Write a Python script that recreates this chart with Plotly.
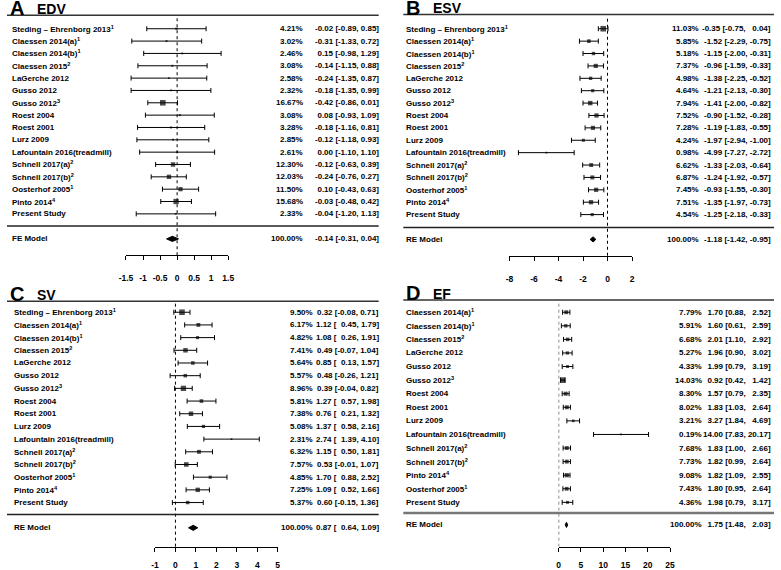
import plotly.graph_objects as go

FONT = "Liberation Sans, Arial, sans-serif"

# ---------------- data ----------------
studies_16 = ["Steding \u2013 Ehrenborg 2013<sup>1</sup>", "Claessen 2014(a)<sup>1</sup>",
              "Claessen 2014(b)<sup>1</sup>", "Claessen 2015<sup>2</sup>", "LaGerche 2012",
              "Gusso 2012", "Gusso 2012<sup>3</sup>", "Roest 2004", "Roest 2001", "Lurz 2009",
              "Lafountain 2016(treadmill)", "Schnell 2017(a)<sup>2</sup>",
              "Schnell 2017(b)<sup>2</sup>", "Oosterhof 2005<sup>1</sup>",
              "Pinto 2014<sup>4</sup>", "Present Study"]

# A: EDV
weight_A = [4.21, 3.02, 2.46, 3.08, 2.58, 2.32, 16.67, 3.08, 3.28, 2.85, 2.61, 12.30, 12.03, 11.50, 15.68, 2.33]
est_A = [-0.02, -0.31, 0.15, -0.14, -0.24, -0.18, -0.42, 0.08, -0.18, -0.12, 0.00, -0.12, -0.24, 0.10, -0.03, -0.04]
lo_A = [-0.89, -1.33, -0.98, -1.15, -1.35, -1.35, -0.86, -0.93, -1.16, -1.18, -1.10, -0.63, -0.76, -0.43, -0.48, -1.20]
hi_A = [0.85, 0.72, 1.29, 0.88, 0.87, 0.99, 0.01, 1.09, 0.81, 0.93, 1.10, 0.39, 0.27, 0.63, 0.42, 1.13]
model_A = ("FE Model", 100.00, -0.14, -0.31, 0.04)
ticks_A = [-1.5, -1, -0.5, 0, 0.5, 1, 1.5]
ticktext_A = ["-1.5", "-1", "-0.5", "0", "0.5", "1", "1.5"]

# B: ESV
weight_B = [11.03, 5.85, 5.18, 7.37, 4.98, 4.64, 7.94, 7.52, 7.28, 4.24, 0.98, 6.62, 6.87, 7.45, 7.51, 4.54]
est_B = [-0.35, -1.52, -1.15, -0.96, -1.38, -1.21, -1.41, -0.90, -1.19, -1.97, -4.99, -1.33, -1.24, -0.93, -1.35, -1.25]
lo_B = [-0.75, -2.29, -2.00, -1.59, -2.25, -2.13, -2.00, -1.52, -1.83, -2.94, -7.27, -2.03, -1.92, -1.55, -1.97, -2.18]
hi_B = [0.04, -0.75, -0.31, -0.33, -0.52, -0.30, -0.82, -0.28, -0.55, -1.00, -2.72, -0.64, -0.57, -0.30, -0.73, -0.33]
model_B = ("RE Model", 100.00, -1.18, -1.42, -0.95)
ticks_B = [-8, -6, -4, -2, 0, 2]
ticktext_B = ["-8", "-6", "-4", "-2", "0", "2"]

# C: SV
weight_C = [9.50, 6.17, 4.82, 7.41, 5.64, 5.57, 8.96, 5.81, 7.38, 5.08, 2.31, 6.32, 7.57, 4.85, 7.25, 5.37]
est_C = [0.32, 1.12, 1.08, 0.49, 0.85, 0.48, 0.39, 1.27, 0.76, 1.37, 2.74, 1.15, 0.53, 1.70, 1.09, 0.60]
lo_C = [-0.08, 0.45, 0.26, -0.07, 0.13, -0.26, -0.04, 0.57, 0.21, 0.58, 1.39, 0.50, -0.01, 0.88, 0.52, -0.15]
hi_C = [0.71, 1.79, 1.91, 1.04, 1.57, 1.21, 0.82, 1.98, 1.32, 2.16, 4.10, 1.81, 1.07, 2.52, 1.66, 1.36]
model_C = ("RE Model", 100.00, 0.87, 0.64, 1.09)
ticks_C = [-1, 0, 1, 2, 3, 4, 5]
ticktext_C = ["-1", "0", "1", "2", "3", "4", "5"]

# D: EF
studies_D = ["Claessen 2014(a)<sup>1</sup>", "Claessen 2014(b)<sup>1</sup>", "Claessen 2015<sup>2</sup>",
             "LaGerche 2012", "Gusso 2012", "Gusso 2012<sup>3</sup>", "Roest 2004", "Roest 2001",
             "Lurz 2009", "Lafountain 2016(treadmill)", "Schnell 2017(a)<sup>2</sup>",
             "Schnell 2017(b)<sup>2</sup>", "Pinto 2014<sup>4</sup>", "Oosterhof 2005<sup>1</sup>",
             "Present Study"]
weight_D = [7.79, 5.91, 6.68, 5.27, 4.33, 14.03, 8.30, 8.02, 3.21, 0.19, 7.68, 7.73, 9.08, 7.43, 4.36]
est_D = [1.70, 1.60, 2.01, 1.96, 1.99, 0.92, 1.57, 1.83, 3.27, 14.00, 1.83, 1.82, 1.82, 1.80, 1.98]
lo_D = [0.88, 0.61, 1.10, 0.90, 0.79, 0.42, 0.79, 1.03, 1.84, 7.83, 1.00, 0.99, 1.09, 0.95, 0.79]
hi_D = [2.52, 2.59, 2.92, 3.02, 3.19, 1.42, 2.35, 2.64, 4.69, 20.17, 2.66, 2.64, 2.55, 2.64, 3.17]
model_D = ("RE Model", 100.00, 1.75, 1.48, 2.03)
ticks_D = [0, 5, 10, 15, 20, 25]
ticktext_D = ["0", "5", "10", "15", "20", "25"]

# ---------------- layout ----------------
W, H = 781, 570


def fx(x):
    return x / W


def fy(y):
    return 1 - y / H


panels = [
    dict(letter="A", name="EDV", studies=studies_16, w=weight_A, est=est_A, lo=lo_A, hi=hi_A,
         model=model_A, ticks=ticks_A, ticktext=ticktext_A,
         left=0, right=378, tline=15.5, xpx=(121, 225), top=18, axis_y=257.5, stand=11, row0=29, step=12.45,
         sep=228, mrow=241, lab_x=4, wcol=302, ccol=379, sepcol="#222", sepw=1.5),
    dict(letter="B", name="ESV", studies=studies_16, w=weight_B, est=est_B, lo=lo_B, hi=hi_B,
         model=model_B, ticks=ticks_B, ticktext=ticktext_B,
         left=403, right=780, tline=14.7, xpx=(511, 635.6), top=17, axis_y=258, stand=11, row0=29, step=12.5,
         sep=229.5, mrow=241.5, lab_x=405, wcol=705, ccol=778, sepcol="#222", sepw=1.5),
    dict(letter="C", name="SV", studies=studies_16, w=weight_C, est=est_C, lo=lo_C, hi=hi_C,
         model=model_C, ticks=ticks_C, ticktext=ticktext_C,
         left=0, right=378, tline=304, xpx=(150.5, 275.3), top=306, axis_y=551.5, stand=6, row0=315,
         step=12.8, sep=519, mrow=532.5, lab_x=6, wcol=312, ccol=379, sepcol="#222", sepw=1.5),
    dict(letter="D", name="EF", studies=studies_D, w=weight_D, est=est_D, lo=lo_D, hi=hi_D,
         model=model_D, ticks=ticks_D, ticktext=ticktext_D,
         left=403, right=780, tline=302.7, xpx=(561, 674.3), top=305, axis_y=551.5, stand=6, row0=315,
         step=13.7, sep=517.5, mrow=529.5, lab_x=405, wcol=708, ccol=778, sepcol="#777", sepw=2.5),
]

fig = go.Figure()
annotations = []
shapes = []
layout_axes = {}


def txt(s, x, y, yref, anchor, size=8):
    annotations.append(dict(text="<b>" + s + "</b>", x=x, y=y, xref="paper", yref=yref,
                            xanchor=anchor, yanchor="middle", showarrow=False, borderpad=0,
                            font=dict(family=FONT, size=size, color="black")))


def pad(vals):
    # R-style fixed width number strings, padded with figure spaces
    s = [f"{v:.2f}" for v in vals]
    n = max(len(t) for t in s)
    return [t.rjust(n).replace(" ", "\u2007") for t in s]


for k, p in enumerate(panels, start=1):
    xa = "x" if k == 1 else f"x{k}"
    ya = "y" if k == 1 else f"y{k}"
    xname = "xaxis" if k == 1 else f"xaxis{k}"
    yname = "yaxis" if k == 1 else f"yaxis{k}"
    step, row0 = p["step"], p["row0"]
    mrow = (p["mrow"] - row0) / step

    layout_axes[xname] = dict(domain=[fx(p["xpx"][0]), fx(p["xpx"][1])],
                              range=[p["ticks"][0], p["ticks"][-1]], anchor=ya,
                              showline=True, linecolor="black", linewidth=1,
                              ticks="outside", ticklen=4, tickcolor="black", tickwidth=1,
                              ticklabelstandoff=p["stand"],
                              tickvals=p["ticks"], ticktext=["<b>" + t + "</b>" for t in p["ticktext"]],
                              tickfont=dict(family=FONT, size=8.5, color="black"),
                              showgrid=False, zeroline=False, fixedrange=True)
    layout_axes[yname] = dict(domain=[fy(p["axis_y"]), fy(p["top"])],
                              range=[(p["axis_y"] - row0) / step, (p["top"] - row0) / step],
                              anchor=xa, visible=False, fixedrange=True)

    n = len(p["est"])
    rows = list(range(n))
    wmin, wmax = min(p["w"]), max(p["w"])
    sizes = [1.8 + 3.8 * (w - wmin) / (wmax - wmin) for w in p["w"]]

    fig.add_trace(go.Scatter(
        x=p["est"], y=rows, xaxis=xa, yaxis=ya, mode="markers", cliponaxis=False,
        marker=dict(symbol="square", size=sizes, color="black", line=dict(width=0)),
        error_x=dict(type="data", symmetric=False,
                     array=[h - e for h, e in zip(p["hi"], p["est"])],
                     arrayminus=[e - l for e, l in zip(p["est"], p["lo"])],
                     color="black", thickness=1, width=2.5),
        showlegend=False, hoverinfo="skip"))

    mname, mw, me, ml, mh = p["model"]
    d = 2.6 / step
    fig.add_trace(go.Scatter(
        x=[ml, me, mh, me, ml], y=[mrow, mrow - d, mrow, mrow + d, mrow], xaxis=xa, yaxis=ya,
        mode="lines", fill="toself", fillcolor="black", line=dict(color="black", width=1),
        showlegend=False, hoverinfo="skip"))

    # zero reference line
    shapes.append(dict(type="line", xref=xa, x0=0, x1=0, yref=f"{ya} domain", y0=0, y1=1,
                       line=dict(color="black", width=1, dash="dot")))
    # title rule and separator rule
    shapes.append(dict(type="line", xref="paper", yref="paper", x0=fx(p["left"]), x1=fx(p["right"]),
                       y0=fy(p["tline"]), y1=fy(p["tline"]), line=dict(color="#333", width=1.5)))
    shapes.append(dict(type="line", xref="paper", yref="paper", x0=fx(p["left"]), x1=fx(p["right"]),
                       y0=fy(p["sep"]), y1=fy(p["sep"]), line=dict(color=p["sepcol"], width=p["sepw"])))

    # panel title
    annotations.append(dict(text="<b>" + p["letter"] + "</b>", x=fx(p["left"] + 1), y=fy(p["tline"] - 7),
                            xref="paper", yref="paper", xanchor="left", yanchor="middle", showarrow=False,
                            font=dict(family=FONT, size=20, color="black")))
    annotations.append(dict(text="<b>" + p["name"] + "</b>", x=fx(p["left"] + 28), y=fy(p["tline"] - 6.5),
                            xref="paper", yref="paper", xanchor="left", yanchor="middle", showarrow=False,
                            font=dict(family=FONT, size=14, color="black")))

    e_s = pad(p["est"] + [me])
    l_s = pad(p["lo"] + [ml])
    h_s = pad(p["hi"] + [mh])
    cw, cc = fx(p["wcol"]), fx(p["ccol"])
    for i in rows:
        txt(p["studies"][i], fx(p["lab_x"]), i, ya, "left")
        txt(f"{p['w'][i]:.2f}%", cw, i, ya, "right")
        txt(f"{e_s[i]} [{l_s[i]}, {h_s[i]}]", cc, i, ya, "right")
    txt(mname, fx(p["lab_x"]), mrow, ya, "left")
    txt(f"{mw:.2f}%", cw, mrow, ya, "right")
    txt(f"{e_s[-1]} [{l_s[-1]}, {h_s[-1]}]", cc, mrow, ya, "right")

fig.update_layout(width=W, height=H, margin=dict(l=0, r=0, t=0, b=0),
                  paper_bgcolor="white", plot_bgcolor="white",
                  annotations=annotations, shapes=shapes, **layout_axes)

fig.write_html("out.html", config={"displayModeBar": False},
               post_script="document.body.style.margin='0px';")
